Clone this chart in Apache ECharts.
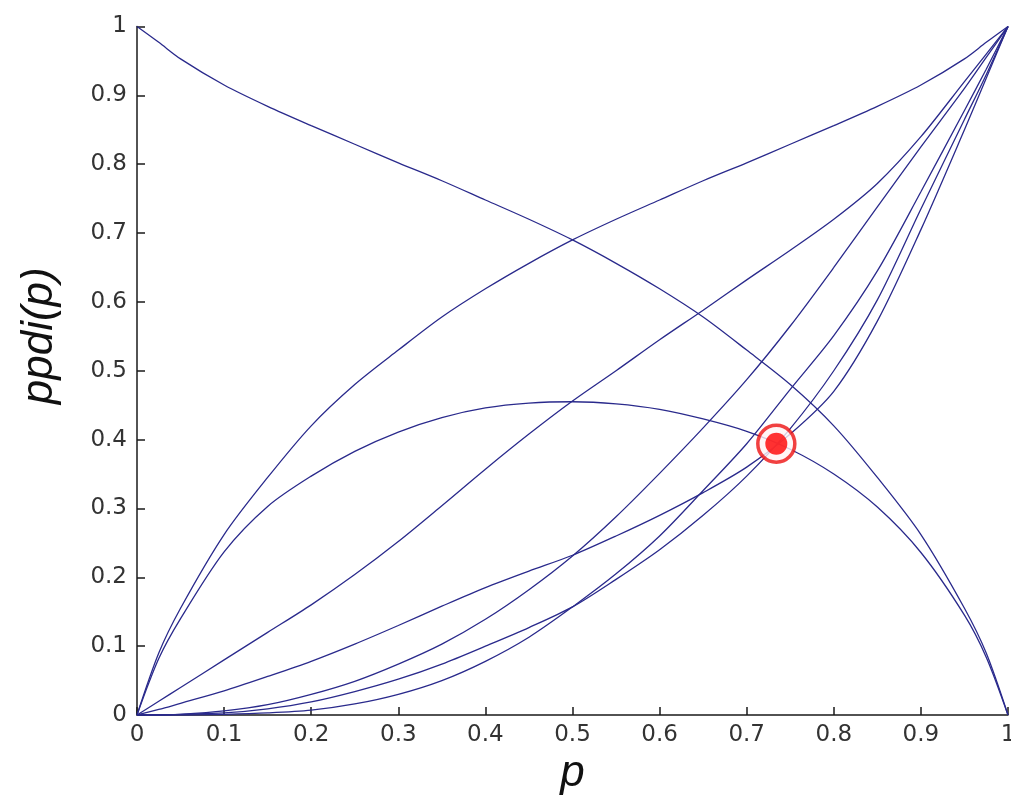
<!DOCTYPE html>
<html>
<head>
<meta charset="utf-8">
<script src="https://cdn.jsdelivr.net/npm/echarts@6/dist/echarts.min.js"></script>
<style>
html,body{margin:0;padding:0;background:#fff;overflow:hidden;}
#chart{width:1011px;height:804px;}
</style>
</head>
<body>
<div id="chart"></div>
<script>
// shared p grid
const pGrid = [0, 0.025, 0.05, 0.1, 0.15, 0.2, 0.25, 0.3, 0.35, 0.4, 0.45, 0.5, 0.55, 0.6, 0.65, 0.7, 0.75, 0.8, 0.85, 0.9, 0.95, 0.975, 1];
// curves
const curveA = [1, 0.977, 0.953, 0.915, 0.884, 0.856, 0.829, 0.802, 0.776, 0.748, 0.72, 0.69, 0.656, 0.619, 0.578, 0.53, 0.48, 0.42, 0.345, 0.262, 0.155, 0.09, 0];
const curveB = [0, 0.09, 0.155, 0.262, 0.345, 0.42, 0.48, 0.53, 0.578, 0.619, 0.656, 0.69, 0.72, 0.748, 0.776, 0.802, 0.829, 0.856, 0.884, 0.915, 0.953, 0.977, 1];
const curveC = [0, 0.082, 0.14, 0.237, 0.303, 0.347, 0.383, 0.411, 0.432, 0.446, 0.453, 0.455, 0.452, 0.444, 0.43, 0.412, 0.386, 0.35, 0.302, 0.236, 0.145, 0.084, 0];
const curveD = [0, 0.02, 0.04, 0.08, 0.12, 0.16, 0.204, 0.252, 0.304, 0.357, 0.408, 0.456, 0.5, 0.545, 0.588, 0.632, 0.675, 0.72, 0.772, 0.84, 0.92, 0.96, 1];
const curveE = [0, 0, 0.001, 0.006, 0.015, 0.03, 0.049, 0.074, 0.103, 0.139, 0.182, 0.231, 0.288, 0.351, 0.417, 0.487, 0.565, 0.65, 0.738, 0.825, 0.91, 0.955, 1];
const curveF = [0, 0, 0, 0.001, 0.003, 0.007, 0.016, 0.03, 0.05, 0.078, 0.113, 0.157, 0.205, 0.26, 0.326, 0.394, 0.473, 0.551, 0.645, 0.76, 0.878, 0.938, 1];
const curveG = [0, 0, 0.001, 0.003, 0.009, 0.019, 0.034, 0.052, 0.074, 0.1, 0.127, 0.157, 0.197, 0.24, 0.29, 0.347, 0.416, 0.5, 0.603, 0.735, 0.865, 0.93, 1];
const curveH = [0, 0.008, 0.017, 0.035, 0.056, 0.078, 0.103, 0.13, 0.158, 0.185, 0.209, 0.232, 0.26, 0.29, 0.323, 0.36, 0.408, 0.47, 0.572, 0.705, 0.85, 0.925, 1];
const markerPoint = [0.734, 0.394];

const curves = [curveA, curveB, curveC, curveD, curveE, curveF, curveG, curveH];
const lineColor = '#2a2a8c';

function toPairs(vals){ return pGrid.map((p,i)=>[p, vals[i]]); }

const chart = echarts.init(document.getElementById('chart'), null, {renderer:'canvas', width:1011, height:804});

const axisCommon = {
  type: 'value', min: 0, max: 1, interval: 0.1,
  axisLine: {show: true, onZero: false, lineStyle: {color: '#1a1a1a', width: 1.5}},
  axisTick: {show: true, inside: true, length: 8, lineStyle: {color: '#1a1a1a', width: 1.5}},
  splitLine: {show: false},
  nameLocation: 'middle'
};
const tickFont = 'DejaVu Sans, Liberation Sans, sans-serif';
const nameFont = 'Liberation Sans, Arial, sans-serif';

const series = curves.map(c => ({
  type: 'line', data: toPairs(c), showSymbol: false, symbol: 'none',
  smooth: 0.3,
  lineStyle: {color: lineColor, width: 1.3},
  z: 2, silent: true
}));
series.push({
  type: 'scatter', data: [markerPoint], symbol: 'circle', symbolSize: 37,
  itemStyle: {color: '#fff4f4', borderColor: '#ee1111', borderWidth: 3.5}, z: 5, silent: true
});
series.push({
  type: 'scatter', data: [markerPoint], symbol: 'circle', symbolSize: 22,
  itemStyle: {color: '#ff0000'}, z: 6, silent: true
});

chart.setOption({
  animation: false,
  backgroundColor: '#ffffff',
  grid: {left: 137, right: 3, top: 26.5, bottom: 89, containLabel: false, outerBoundsMode: 'none'},
  xAxis: Object.assign({}, axisCommon, {
    name: 'p', nameGap: 36,
    nameTextStyle: {fontSize: 44, fontStyle: 'italic', fontFamily: nameFont, color: '#111', verticalAlign: 'top'},
    axisLabel: {fontSize: 23, color: '#333', margin: 9, fontFamily: tickFont,
      formatter: v => String(Math.round(v*10)/10)}
  }),
  yAxis: Object.assign({}, axisCommon, {
    name: 'ppdi(p)', nameGap: 75, nameRotate: 90,
    nameTextStyle: {fontSize: 44, fontStyle: 'italic', fontFamily: nameFont, color: '#111', padding: [0, 0, 0, 70]},
    axisLabel: {fontSize: 23, color: '#333', margin: 10, fontFamily: tickFont,
      formatter: v => String(Math.round(v*10)/10)}
  }),
  series: series
});
</script>
</body>
</html>
